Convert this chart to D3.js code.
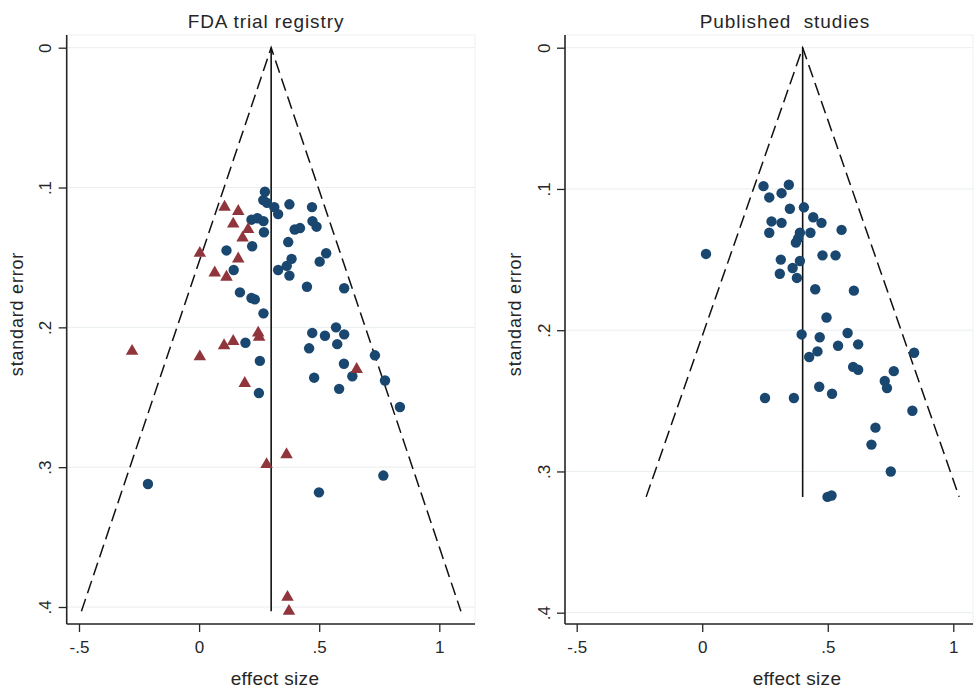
<!DOCTYPE html>
<html>
<head>
<meta charset="utf-8">
<script src="https://cdnjs.cloudflare.com/ajax/libs/d3/7.8.5/d3.min.js"></script>
<style>
  body { margin: 0; background: #fff; }
  svg { display: block; font-family: "Liberation Sans", Arial, sans-serif; }
</style>
</head>
<body>
<svg id="chart" width="978" height="691"></svg>
<script>
// FDA registry: studies that were published (circles) / not published (triangles)
const fdaCircles = [
  [0.274, 0.103], [0.267, 0.109], [0.283, 0.111], [0.313, 0.114], [0.329, 0.119],
  [0.376, 0.112], [0.470, 0.114], [0.472, 0.124], [0.489, 0.128], [0.398, 0.130],
  [0.420, 0.129], [0.371, 0.139], [0.529, 0.147], [0.502, 0.153], [0.385, 0.151],
  [0.365, 0.156], [0.329, 0.159], [0.376, 0.163], [0.449, 0.171], [0.604, 0.172],
  [0.218, 0.123], [0.243, 0.122], [0.268, 0.124], [0.270, 0.132], [0.221, 0.142],
  [0.114, 0.145], [0.144, 0.159], [0.170, 0.175], [0.218, 0.179], [0.232, 0.180],
  [0.268, 0.190], [0.193, 0.211], [0.253, 0.224], [0.249, 0.247], [0.471, 0.204],
  [0.524, 0.206], [0.570, 0.200], [0.604, 0.205], [0.458, 0.215], [0.575, 0.212],
  [0.732, 0.220], [0.603, 0.226], [0.479, 0.236], [0.638, 0.235], [0.774, 0.238],
  [0.583, 0.244], [0.836, 0.257], [-0.213, 0.312], [0.499, 0.318], [0.767, 0.306]
];
const fdaTriangles = [
  [0.106, 0.114], [0.163, 0.117], [0.142, 0.126], [0.204, 0.130], [0.181, 0.136],
  [0.003, 0.147], [0.163, 0.151], [0.065, 0.161], [0.114, 0.164], [-0.279, 0.217],
  [0.003, 0.221], [0.104, 0.213], [0.142, 0.210], [0.246, 0.204], [0.250, 0.207],
  [0.190, 0.240], [0.656, 0.230], [0.364, 0.291], [0.281, 0.298], [0.368, 0.393],
  [0.374, 0.403]
];
const pubCircles = [
  [0.244, 0.098], [0.345, 0.097], [0.267, 0.106], [0.316, 0.103], [0.349, 0.114],
  [0.405, 0.113], [0.276, 0.123], [0.316, 0.124], [0.267, 0.131], [0.442, 0.120],
  [0.475, 0.124], [0.555, 0.129], [0.389, 0.131], [0.382, 0.135], [0.373, 0.138],
  [0.431, 0.131], [0.015, 0.146], [0.313, 0.150], [0.479, 0.147], [0.531, 0.147],
  [0.389, 0.151], [0.360, 0.156], [0.309, 0.160], [0.377, 0.163], [0.450, 0.171],
  [0.604, 0.172], [0.495, 0.191], [0.396, 0.203], [0.468, 0.205], [0.579, 0.202],
  [0.541, 0.211], [0.621, 0.210], [0.426, 0.219], [0.459, 0.215], [0.844, 0.216],
  [0.601, 0.226], [0.621, 0.228], [0.763, 0.229], [0.727, 0.236], [0.736, 0.241],
  [0.466, 0.240], [0.517, 0.245], [0.250, 0.248], [0.365, 0.248], [0.837, 0.257],
  [0.690, 0.269], [0.674, 0.281], [0.751, 0.300], [0.499, 0.318], [0.515, 0.317]
];

const xTicks = [-0.5, 0, 0.5, 1];
const yTicks = [0, 0.1, 0.2, 0.3, 0.4];

const panels = [
  { title: 'FDA trial registry', circles: fdaCircles, triangles: fdaTriangles,
    pooled: 0.3, maxSe: 0.403,
    left: 66.7, right: 475, xPix: [79, 439.3], yPix: [47.7, 607], titleX: 266, xTitleX: 275 },
  { title: 'Published  studies', circles: pubCircles, triangles: [],
    pooled: 0.4, maxSe: 0.318,
    left: 565, right: 973, xPix: [576.7, 953.3], yPix: [47.7, 612.7], titleX: 785, xTitleX: 797 }
];

const plotTop = 35, plotBottom = 624;
const navy = '#1a476f', maroon = '#90353b', ink = '#262626';
const fmt = d => d === 0 ? '0' : String(d).replace('0.', '.');

const svg = d3.select('#chart');

panels.forEach(p => {
  const x = d3.scaleLinear().domain([-0.5, 1]).range(p.xPix);
  const y = d3.scaleLinear().domain([0, 0.4]).range(p.yPix);
  const g = svg.append('g');

  // Faint plot region and grid
  g.append('rect')
    .attr('x', p.left).attr('y', plotTop)
    .attr('width', p.right - p.left).attr('height', plotBottom - plotTop)
    .attr('fill', 'none').attr('stroke', '#eef2f2');
  g.selectAll('line.grid')
    .data(yTicks)
  .join('line')
    .attr('class', 'grid')
    .attr('x1', p.left).attr('x2', p.right)
    .attr('y1', d => y(d)).attr('y2', d => y(d))
    .attr('stroke', '#e9eeee').attr('stroke-width', 1);

  // Y axis
  const yAxis = g.append('g')
    .attr('transform', 'translate(' + p.left + ',0)')
    .call(d3.axisLeft(y).tickValues(yTicks).tickFormat(fmt).tickSize(8).tickSizeOuter(0));
  yAxis.select('.domain').remove();
  yAxis.selectAll('.tick line').attr('stroke', ink).attr('stroke-width', 1.3);
  yAxis.selectAll('.tick text')
    .attr('x', null).attr('dy', null)
    .attr('transform', 'translate(-21,0) rotate(-90)')
    .attr('text-anchor', 'middle')
    .attr('dominant-baseline', 'central')
    .attr('fill', ink).style('font-size', '17px');
  g.append('line')
    .attr('x1', p.left).attr('x2', p.left).attr('y1', plotTop).attr('y2', plotBottom)
    .attr('stroke', ink).attr('stroke-width', 1.6);

  // X axis
  const xAxis = g.append('g')
    .attr('transform', 'translate(0,' + plotBottom + ')')
    .call(d3.axisBottom(x).tickValues(xTicks).tickFormat(fmt).tickSize(8).tickSizeOuter(0));
  xAxis.select('.domain').remove();
  xAxis.selectAll('.tick line').attr('stroke', ink).attr('stroke-width', 1.3);
  xAxis.selectAll('.tick text')
    .attr('y', 17).attr('fill', ink).style('font-size', '17px');
  g.append('line')
    .attr('x1', p.left).attr('x2', p.right).attr('y1', plotBottom).attr('y2', plotBottom)
    .attr('stroke', ink).attr('stroke-width', 1.6);

  // Titles
  g.append('text')
    .attr('x', p.titleX).attr('y', 28)
    .attr('text-anchor', 'middle').attr('fill', ink)
    .style('font-size', '19px').style('letter-spacing', '0.9px').style('white-space', 'pre')
    .text(p.title);
  g.append('text')
    .attr('x', p.xTitleX).attr('y', 685)
    .attr('text-anchor', 'middle').attr('fill', ink)
    .style('font-size', '19px').style('letter-spacing', '0.3px')
    .text('effect size');
  g.append('text')
    .attr('transform', 'translate(' + (p.left - 44) + ',' + 314 + ') rotate(-90)')
    .attr('text-anchor', 'middle').attr('fill', ink)
    .style('font-size', '18px').style('letter-spacing', '0.8px')
    .text('standard error');

  // Funnel
  const apex = [x(p.pooled), y(0)];
  const lo = [x(p.pooled - 1.96 * p.maxSe), y(p.maxSe)];
  const hi = [x(p.pooled + 1.96 * p.maxSe), y(p.maxSe)];
  g.append('path')
    .attr('d', d3.line()([lo, apex, hi]))
    .attr('fill', 'none').attr('stroke', '#111').attr('stroke-width', 1.5)
    .attr('stroke-dasharray', '13,6');
  g.append('line')
    .attr('x1', apex[0]).attr('x2', apex[0]).attr('y1', apex[1]).attr('y2', y(p.maxSe))
    .attr('stroke', '#111').attr('stroke-width', 1.6);

  // Markers
  g.selectAll('circle.pt')
    .data(p.circles)
  .join('circle')
    .attr('class', 'pt')
    .attr('cx', d => x(d[0])).attr('cy', d => y(d[1]))
    .attr('r', 5.2)
    .attr('fill', navy);
  g.selectAll('path.tri')
    .data(p.triangles)
  .join('path')
    .attr('class', 'tri')
    .attr('transform', d => 'translate(' + x(d[0]) + ',' + y(d[1]) + ')')
    .attr('d', d3.symbol(d3.symbolTriangle, 68))
    .attr('fill', maroon);
});
</script>
</body>
</html>
